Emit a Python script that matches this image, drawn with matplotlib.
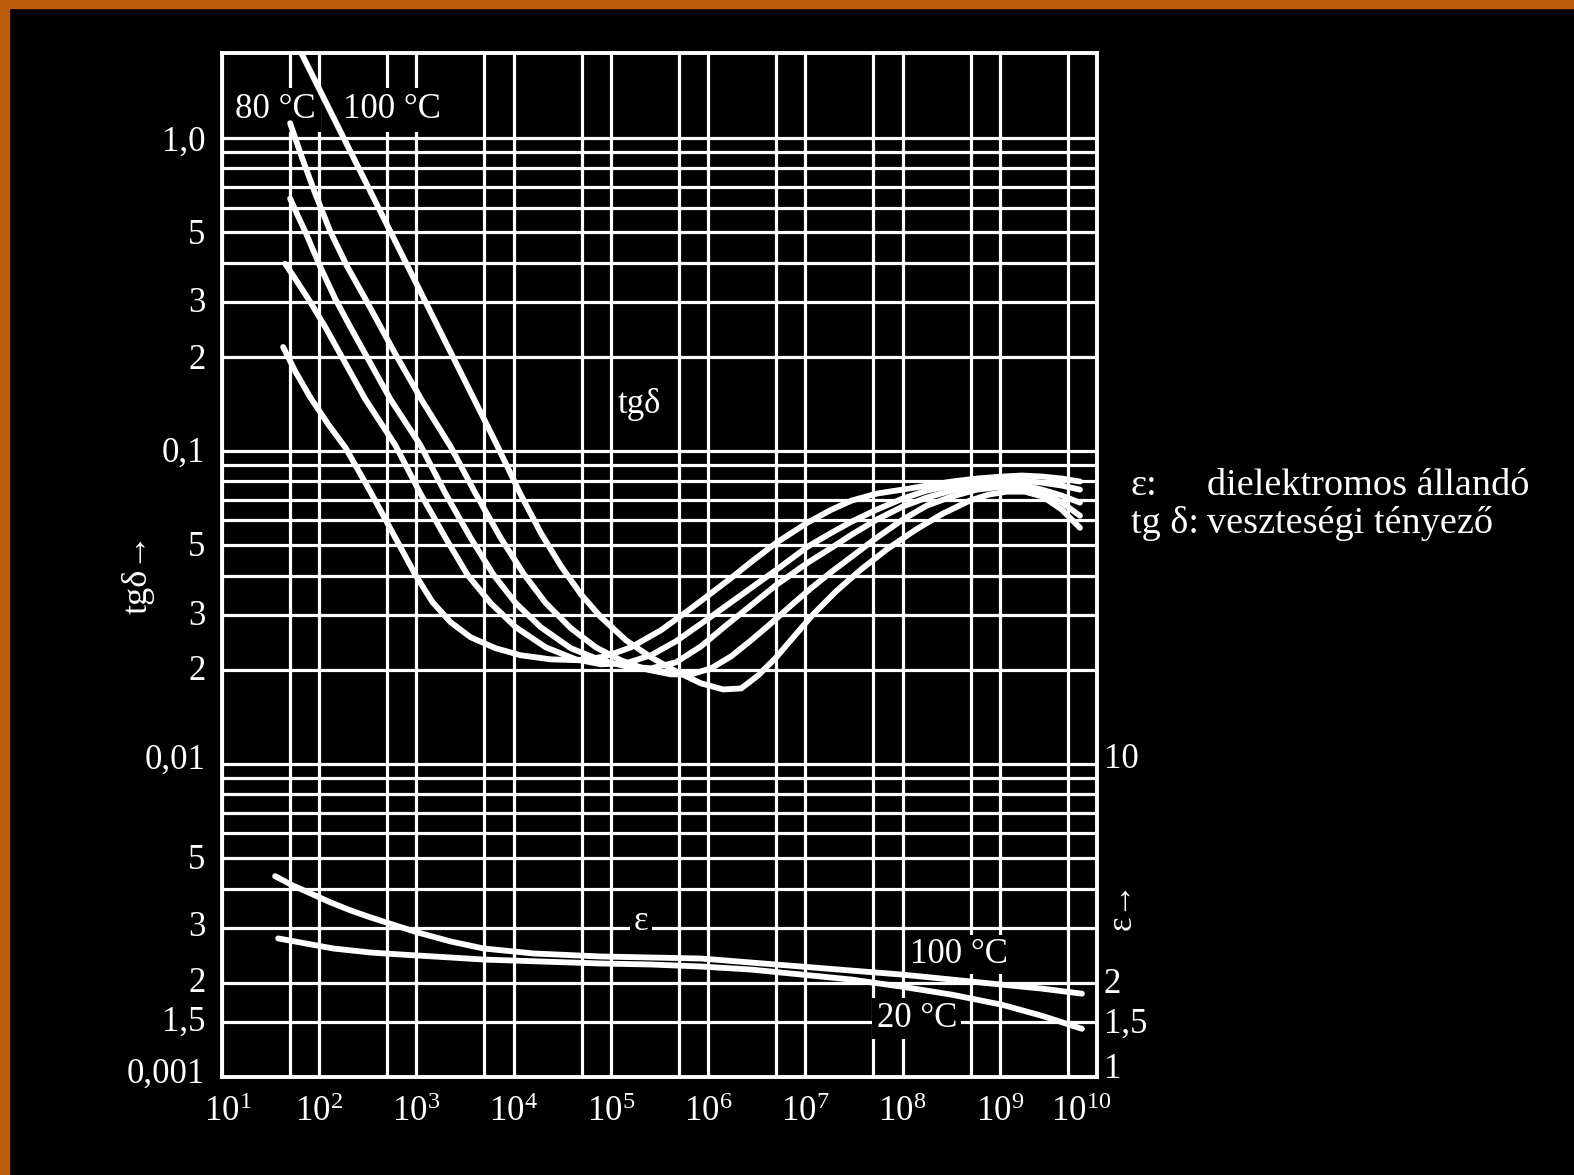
import matplotlib.pyplot as plt
from matplotlib.patches import Rectangle
from matplotlib.ticker import FixedLocator, FixedFormatter, NullFormatter
from matplotlib.transforms import ScaledTranslation

plt.rcParams['font.family'] = ['Liberation Serif', 'DejaVu Serif']
plt.rcParams['mathtext.fontset'] = 'custom'
plt.rcParams['mathtext.rm'] = 'Liberation Serif'

# loss factor tg delta against frequency (Hz), five temperatures, hottest first
f_1 = [57.9, 102.4, 185.4, 335.6, 607.5, 1100, 1991, 3603, 6523, 11810, 18980, 30510,
       49060, 78880, 142800, 258400, 467900, 846800, 1.428e6, 2.189e6, 3.277e6,
       5.023e6, 7.70e6, 1.209e7, 2.087e7, 3.69e7, 7.004e7, 1.361e8, 2.585e8,
       4.906e8, 7.70e8, 1.181e9, 1.81e9, 2.775e9, 4.357e9, 6.678e9]
tg_1 = [2.016, 1.414, 0.977, 0.6755, 0.467, 0.3228, 0.2231, 0.1542, 0.1066, 0.0726,
        0.0548, 0.0430, 0.0349, 0.02947, 0.02486, 0.02193, 0.01977, 0.0181, 0.01731,
        0.01744, 0.0192, 0.02193, 0.02562, 0.03013, 0.03571, 0.04171, 0.0487,
        0.05602, 0.06307, 0.06943, 0.0726, 0.07418, 0.07418, 0.07152, 0.06495, 0.05686]

f_2 = [50.2, 66.8, 90.9, 129.9, 194.4, 298, 607.5, 1153, 2241, 4057, 7345, 12680,
       21380, 38690, 70030, 126800, 229500, 415600, 667900, 1.074e6, 1.726e6,
       2.775e6, 4.461e6, 7.173e6, 1.153e7, 1.854e7, 2.98e7, 5.395e7, 1.0e8,
       1.768e8, 3.2e8, 5.794e8, 1.074e9, 1.686e9, 2.71e9, 4.357e9, 6.678e9]
tg_2 = [1.116, 0.862, 0.6655, 0.5029, 0.3882, 0.3064, 0.2041, 0.1442, 0.1035, 0.0731,
        0.0528, 0.0405, 0.03268, 0.02717, 0.0236, 0.02145, 0.02007, 0.01934, 0.01934,
        0.02022, 0.02209, 0.02486, 0.02819, 0.03217, 0.03651, 0.04109, 0.04591,
        0.0528, 0.06034, 0.0669, 0.07152, 0.0753, 0.07698, 0.07641, 0.07369,
        0.06842, 0.06215]

f_3 = [50.2, 60.75, 71.74, 102.4, 146.2, 208.7, 298, 539.5, 1100, 1991, 3603, 6221,
       10490, 18980, 38690, 78880, 142800, 258400, 467900, 846800, 1.497e6,
       2.775e6, 5.023e6, 1.049e7, 1.854e7, 2.98e7, 5.395e7, 1.0e8, 1.768e8, 3.2e8,
       5.794e8, 1.074e9, 1.686e9, 2.71e9, 4.357e9, 6.678e9]
tg_3 = [0.641, 0.5618, 0.5029, 0.3882, 0.3064, 0.2491, 0.2041, 0.1464, 0.1043, 0.0731,
        0.0528, 0.04019, 0.03268, 0.02737, 0.02344, 0.02145, 0.02052, 0.02022,
        0.02113, 0.02378, 0.02757, 0.03217, 0.03733, 0.04391, 0.04906, 0.054,
        0.06034, 0.06644, 0.07099, 0.07474, 0.07755, 0.07929, 0.07812, 0.0753,
        0.07205, 0.06842]

f_4 = [44.6, 59.33, 80.75, 115.3, 164.6, 298, 607.5, 1100, 1991, 3356, 5793, 10490,
       21380, 43580, 78880, 142800, 258400, 467900, 953500, 2.189e6, 5.023e6,
       1.049e7, 1.854e7, 2.98e7, 5.395e7, 1.0e8, 1.768e8, 3.2e8, 5.794e8, 1.074e9,
       1.686e9, 2.71e9, 4.357e9, 6.678e9]
tg_4 = [0.397, 0.3475, 0.2996, 0.2491, 0.2041, 0.1464, 0.1043, 0.0731, 0.0528, 0.04019,
        0.03268, 0.02737, 0.0236, 0.0216, 0.02083, 0.02098, 0.02226, 0.02468, 0.02882,
        0.03467, 0.04171, 0.04942, 0.0548, 0.05945, 0.06495, 0.07047, 0.07474,
        0.07755, 0.0799, 0.08109, 0.0805, 0.07929, 0.07755, 0.0753]

f_5 = [42.56, 56.56, 80.75, 123.8, 185.4, 335.6, 607.5, 976.6, 1462, 2241, 3603, 6523,
       11810, 24070, 49060, 88820, 160800, 327700, 593200, 953500, 1.726e6, 2.775e6,
       5.023e6, 1.049e7, 1.854e7, 2.98e7, 5.395e7, 1.0e8, 1.768e8, 3.2e8, 5.794e8,
       1.074e9, 1.686e9, 2.71e9, 4.357e9, 6.678e9]
tg_5 = [0.215, 0.18, 0.1486, 0.1217, 0.1027, 0.07418, 0.0528, 0.04019, 0.03292, 0.0284,
        0.02542, 0.02344, 0.02226, 0.0216, 0.02145, 0.02209, 0.0236, 0.02677, 0.03058,
        0.03416, 0.03931, 0.04424, 0.05091, 0.05902, 0.06495, 0.06943, 0.0731,
        0.0753, 0.07755, 0.0799, 0.08169, 0.0829, 0.08352, 0.0829, 0.08169, 0.0799]

tg_curves = [(f_1, tg_1), (f_2, tg_2), (f_3, tg_3), (f_4, tg_4), (f_5, tg_5)]

# dielectric constant at 100 and 20 degC
f_eps100 = [35.2, 52.7, 80.75, 129.9, 208.7, 335.6, 607.5, 1024, 2241, 4906, 16080,
            78880, 258400, 846800, 2.775e6, 9.096e6, 2.98e7, 9.766e7, 3.2e8,
            1.049e9, 2.71e9, 7.004e9]
eps_100 = [4.382, 4.101, 3.865, 3.616, 3.409, 3.237, 3.051, 2.897, 2.711, 2.574, 2.481,
           2.427, 2.409, 2.391, 2.321, 2.254, 2.188, 2.125, 2.048, 1.973, 1.916, 1.846]
f_eps20 = [37.8, 63.7, 139.4, 335.6, 683.9, 2241, 4906, 18980, 78880, 258400, 846800,
           2.775e6, 9.096e6, 2.98e7, 9.766e7, 3.2e8, 1.049e9, 2.71e9, 7.004e9]
eps_20 = [2.772, 2.691, 2.574, 2.499, 2.463, 2.409, 2.373, 2.339, 2.305, 2.288, 2.254,
          2.204, 2.125, 2.048, 1.944, 1.833, 1.702, 1.569, 1.426]

tg_major = [0.001, 0.0015, 0.002, 0.003, 0.005, 0.01, 0.02, 0.03, 0.05,
            0.1, 0.2, 0.3, 0.5, 1.0]
tg_labels = ['0,001', '1,5', '2', '3', '5', '0,01', '2', '3', '5',
             '0,1', '2', '3', '5', '1,0']
tg_minor = [0.004, 0.006, 0.007, 0.008, 0.009, 0.04, 0.06, 0.07, 0.08, 0.09,
            0.4, 0.6, 0.7, 0.8, 0.9]
eps_ticks = [1, 1.5, 2, 10]
eps_labels = ['1', '1,5', '2', '10']
f_exp = list(range(1, 11))

# small upward nudges (px) of the printed tick labels
tg_nudge = [7, 4, 3, 4, 2, 8, 2, 2, 2, 2, 0, 2, 1, 0]
eps_nudge = [12, 2, 2, 9]

W, H = 1574, 1175
fig = plt.figure(figsize=(W / 100, H / 100), dpi=100, facecolor='black')
orange = '#BE5E0C'
fig.patches.append(Rectangle((0, 1 - 8 / H), 1, 8 / H, transform=fig.transFigure,
                             color=orange, zorder=0))
fig.patches.append(Rectangle((0, 0), 9 / W, 1, transform=fig.transFigure,
                             color=orange, zorder=0))

ax = fig.add_axes([222 / W, 1 - 1077 / H, 875 / W, 1024 / H], facecolor='black')
ax.set_xscale('log')
ax.set_yscale('log')
ax.set_xlim(10, 1e10)
ax.set_ylim(0.001, 1.87)

ax.xaxis.set_major_locator(FixedLocator([10.0 ** k for k in f_exp]))
ax.xaxis.set_major_formatter(FixedFormatter([r'$\mathregular{10^{%d}}$' % k for k in f_exp]))
ax.xaxis.set_minor_locator(FixedLocator([5 * 10.0 ** k for k in f_exp[:-1]]))
ax.xaxis.set_minor_formatter(NullFormatter())
ax.yaxis.set_major_locator(FixedLocator(tg_major))
ax.yaxis.set_major_formatter(FixedFormatter(tg_labels))
ax.yaxis.set_minor_locator(FixedLocator(tg_minor))
ax.yaxis.set_minor_formatter(NullFormatter())

ax.set_axisbelow(True)
ax.grid(which='both', color='white', linewidth=2.3)
ax.tick_params(which='both', length=0, colors='white', labelsize=25)
ax.tick_params(axis='y', pad=12)
ax.tick_params(axis='x', pad=14)
for s in ax.spines.values():
    s.set_color('white')
    s.set_linewidth(2.8)


def shift(lab, dx, dy):
    off = ScaledTranslation(dx / 100, dy / 100, fig.dpi_scale_trans)
    lab.set_transform(lab.get_transform() + off)


for lab, dy in zip(ax.get_yticklabels(), tg_nudge):
    shift(lab, 0, dy)
xlabs = ax.get_xticklabels()
shift(xlabs[0], 6, 0)
shift(xlabs[-1], -16, 0)

for f, tg in tg_curves:
    ax.plot(f, tg, color='white', linewidth=4.2, solid_capstyle='round',
            solid_joinstyle='round', zorder=4)


def label(x, y, s, ha='left', pad=4):
    ax.text(x, y, s, color='white', fontsize=25, ha=ha, va='center', zorder=3,
            bbox=dict(facecolor='black', edgecolor='none', pad=pad))


label(13.6, 1.23, '80 °C')
label(177, 1.23, '100 °C')
label(1.94e5, 0.141, 'tgδ', ha='center', pad=1)
label(2.04e5, 0.00314, 'ε', ha='center', pad=3)
label(1.18e8, 0.00246, '100 °C', pad=2)
label(5.4e7, 0.00154, '20 °C', pad=3)

# right axis for the dielectric constant, one decade over the lowest tg decade
ax2 = ax.twinx()
ax2.set_yscale('log')
ax2.set_ylim(1, 1870)
ax2.yaxis.set_major_locator(FixedLocator(eps_ticks))
ax2.yaxis.set_major_formatter(FixedFormatter(eps_labels))
ax2.yaxis.set_minor_locator(FixedLocator([]))
ax2.tick_params(which='both', length=0, colors='white', labelsize=25, pad=5)
for s in ax2.spines.values():
    s.set_visible(False)
for lab, dy in zip(ax2.get_yticklabels(), eps_nudge):
    shift(lab, 0, dy)
ax2.plot(f_eps100, eps_100, color='white', linewidth=4.2, solid_capstyle='round',
         solid_joinstyle='round')
ax2.plot(f_eps20, eps_20, color='white', linewidth=4.2, solid_capstyle='round',
         solid_joinstyle='round')

fig.text(138 / W, 1 - 573 / H, 'tgδ→', color='white', fontsize=26, rotation=90,
         ha='center', va='center')
fig.text(1122 / W, 1 - 905 / H, 'ε→', color='white', fontsize=25, rotation=90,
         ha='center', va='center')

fig.text(1131 / W, 1 - 486 / H, 'ε:', color='white', fontsize=27.5, ha='left', va='center')
fig.text(1207 / W, 1 - 486 / H, 'dielektromos állandó', color='white', fontsize=27.5,
         ha='left', va='center')
fig.text(1131 / W, 1 - 524 / H, 'tg δ:', color='white', fontsize=27.5, ha='left',
         va='center')
fig.text(1207 / W, 1 - 524 / H, 'veszteségi tényező', color='white', fontsize=27.5,
         ha='left', va='center')

fig.savefig('out.png', dpi=100, facecolor='black')
